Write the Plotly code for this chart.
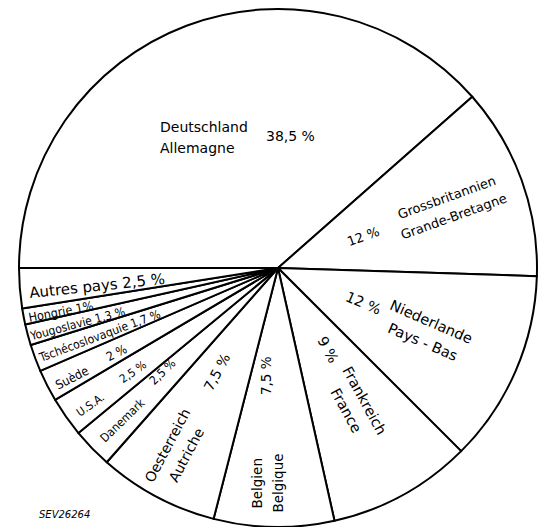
import math
import plotly.graph_objects as go

# ---- data ----
names = ["Deutschland<br>Allemagne", "Grossbritannien<br>Grande-Bretagne",
         "Niederlande<br>Pays - Bas", "Frankreich<br>France",
         "Belgien<br>Belgique", "Oesterreich<br>Autriche", "Danemark",
         "U.S.A.", "Suède", "Tschécoslovaquie", "Yougoslavie", "Hongrie",
         "Autres pays"]
shares = [38.5, 12, 12, 9, 7.5, 7.5, 2.5, 2.5, 2, 1.7, 1.3, 1, 2.5]
share_text = ["38,5 %", "12 %", "12 %", "9 %", "7,5 %", "7,5 %", "2,5 %",
              "2,5 %", "2 %", "1,7 %", "1,3 %", "1%", "2,5 %"]
note = "SEV26264"

# ---- label layout (radius fraction, angle offset in deg, font size) ----
combined = [False, False, False, False, False, False, False, False, False,
            True, True, True, True]
name_r = [0.686, 0.705, 0.626, 0.607, 0.831, 0.804, 0.838, 0.898, 0.90,
          0.738, 0.805, 0.854, 0.702]
name_dt = [-21.8, 0.3, -0.2, -0.5, 2.0, 1.1, -0.3, -1.0, -0.9,
           -0.6, -0.6, -0.5, -1.2]
pct_r = [0.512, 0.35, 0.355, 0.371, 0.416, 0.466, 0.60, 0.69, 0.703,
         0, 0, 0, 0]
pct_dt = [25.9, -0.2, -1.0, -2.6, 5.5, 2.5, 2.2, -0.4, -0.8, 0, 0, 0, 0]
font_sz = [14, 13, 14.5, 14.5, 13.5, 14, 12, 11.5, 12.5, 12, 12, 12.5, 15]
condensed = [False, False, False, False, False, False, True, True, True,
             True, True, True, False]
LINE_GAP = 21  # px between two lines of a bilingual label
PLOT_PX = 518  # side of the square plot area

START = 270.0  # first slice starts at 9 o'clock, clockwise
FONT_REG = "DejaVu Sans, sans-serif"
FONT_CND = "DejaVu Sans Condensed, DejaVu Sans, sans-serif"

fig = go.Figure(go.Pie(
    values=shares, labels=[n.replace("<br>", " / ") for n in names],
    sort=False, direction="clockwise", rotation=START,
    marker=dict(colors=["white"] * len(shares),
                line=dict(color="black", width=2)),
    textinfo="none", hoverinfo="skip", showlegend=False,
))

total = sum(shares)
cum = 0.0
annotations = []


def polar_to_paper(r, theta):
    t = math.radians(theta)
    return 0.5 + 0.5 * r * math.sin(t), 0.5 + 0.5 * r * math.cos(t)


for i, v in enumerate(shares):
    a0 = START + cum / total * 360
    cum += v
    a1 = START + cum / total * 360
    mid = ((a0 + a1) / 2) % 360
    if i == 0:
        ang = 0
    elif mid < 180:
        ang = mid - 90
    else:
        ang = mid - 270
    if i == 4:
        ang = -90
    if i == 12:
        ang = -6
    fnt = dict(family=FONT_CND if condensed[i] else FONT_REG,
               size=font_sz[i], color="black")
    if combined[i]:
        x, y = polar_to_paper(name_r[i], mid + name_dt[i])
        annotations.append(dict(x=x, y=y, xref="paper", yref="paper",
                                text=names[i] + " " + share_text[i],
                                showarrow=False, textangle=ang, font=fnt,
                                xanchor="center", yanchor="middle"))
        continue
    x, y = polar_to_paper(name_r[i], mid + name_dt[i])
    lines = names[i].split("<br>")
    # "up" direction of rotated text, in paper units
    ux = math.sin(math.radians(ang)) / PLOT_PX
    uy = math.cos(math.radians(ang)) / PLOT_PX
    n = len(lines)
    for k, line in enumerate(lines):
        off = ((n - 1) / 2 - k) * LINE_GAP
        annotations.append(dict(x=x + off * ux, y=y + off * uy,
                                xref="paper", yref="paper",
                                text=line, showarrow=False,
                                textangle=ang, font=fnt,
                                xanchor="left" if i == 0 else "center",
                                yanchor="middle"))
    x, y = polar_to_paper(pct_r[i], mid + pct_dt[i])
    annotations.append(dict(x=x, y=y, xref="paper", yref="paper",
                            text=share_text[i], showarrow=False,
                            textangle=ang, font=fnt,
                            xanchor="center", yanchor="middle"))

annotations.append(dict(x=0.0869, y=0.0232, xref="paper", yref="paper",
                        text=note, showarrow=False,
                        font=dict(family="DejaVu Sans, sans-serif", size=10,
                                  color="black", style="italic"),
                        xanchor="center", yanchor="middle"))

fig.update_layout(
    width=541, height=527,
    margin=dict(l=19, r=4, t=9, b=0),
    paper_bgcolor="white", plot_bgcolor="white",
    annotations=annotations,
)

fig.write_html("out.html",
               config={"displayModeBar": False},
               post_script="document.body.style.margin='0';"
                           "document.body.style.overflow='hidden';")
